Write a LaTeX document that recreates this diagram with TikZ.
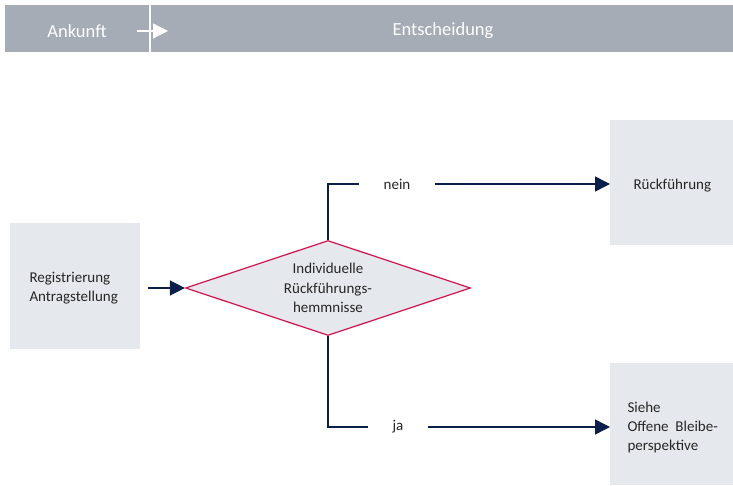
\documentclass[tikz,border=0pt]{standalone}
\usepackage{fontspec}
\setmainfont{Carlito}
\usepackage{tikz}
\usetikzlibrary{shapes.geometric, arrows.meta, positioning, calc}
\definecolor{bandgrey}{HTML}{A5ACB5}
\definecolor{boxgrey}{HTML}{E5E8ED}
\definecolor{navy}{HTML}{0B1F4B}
\definecolor{crimson}{HTML}{D4124E}

\begin{document}
\begin{tikzpicture}[x=1pt, y=-1pt,
    box/.style={fill=boxgrey, inner sep=0pt, anchor=north west},
    boxtext/.style={align=left, anchor=west, font=\fontsize{15}{19}\selectfont, text=black!85},
    decision/.style={diamond, draw=crimson, fill=boxgrey, line width=1.2pt,
      minimum width=285pt, minimum height=95pt, inner sep=0pt, aspect=3,
      align=center, font=\fontsize{15}{19.5}\selectfont, text=black!85},
    flow/.style={navy, line width=1.5pt},
    tip/.style={-{Triangle[length=15pt, width=15pt]}},
    branch/.style={inner xsep=24pt, inner ysep=2pt, font=\fontsize{15}{17}\selectfont, text=black!85},
    headtext/.style={white, font=\fontsize{18.5}{20}\selectfont}]
  \useasboundingbox (0,0) rectangle (733,486);

  % header band
  \fill[bandgrey] (5,5) rectangle (733,52);
  \draw[white, line width=1.5pt] (150,5) -- (150,52);
  \coordinate (hstart) at (137,31);
  \coordinate (hend) at (168,31);
  \draw[white, line width=1.3pt, -{Triangle[length=15pt, width=15pt]}] (hstart) -- (hend);
  \node[headtext] (ankunft) at (77,31) {Ankunft};
  \node[headtext] (entsch) at (443,31) {Entscheidung};

  % boxes
  \node[box, minimum width=130pt, minimum height=126pt] (reg) at (10,223) {};
  \node[boxtext] (regtext) at (26,288) {Registrierung\\Antragstellung};
  \node[box, minimum width=123pt, minimum height=125pt] (rueck) at (610,120) {};
  \node[boxtext] (ruecktext) at (630,186) {Rückführung};
  \node[box, minimum width=123pt, minimum height=122pt] (bleibe) at (610,363) {};
  \node[boxtext] (bleibetext) at (624,427) {Siehe\\Offene\ \ Bleibe-\\perspektive};

  % decision
  \node[decision] (hemm) at (328,288) {Individuelle\\Rückführungs-\\hemmnisse};

  % branch labels
  \node[branch] (nein) at (397,184) {nein};
  \node[branch] (ja) at (398,427) {ja};
  \coordinate (regout) at (148,288);

  % connectors
  \draw[flow, tip] (regout) -- (hemm.west);
  \draw[flow] (hemm.north) |- (nein.west);
  \draw[flow, tip] (nein.east) -- (nein.east -| rueck.west);
  \draw[flow] (hemm.south) |- (ja.west);
  \draw[flow, tip] (ja.east) -- (ja.east -| bleibe.west);
\end{tikzpicture}
\end{document}
